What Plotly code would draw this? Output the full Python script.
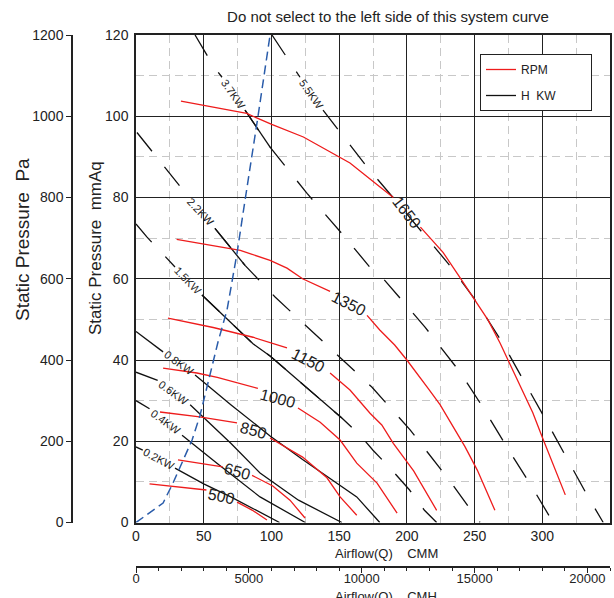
import plotly.graph_objects as go

# ---- data (airflow in CMM, static pressure in mmAq) ----
# None marks the gap where the inline label sits

rpm500_x = [10, 30, 52, None, 74.6, 86, 96.7]
rpm500_y = [9.5, 8.8, 8.0, None, 5.0, 3.0, 0.6]
rpm650_x = [31, 48, 64, None, 85.7, 101, 113.7, 124.8]
rpm650_y = [15.4, 14.6, 13.7, None, 11.6, 9.0, 5.5, 1.1]
rpm850_x = [17.7, 47, 74.6, None, 99, 123, 141, 150.7, 163]
rpm850_y = [27.2, 26, 24.5, None, 20.8, 16.1, 11, 6.3, 1.8]
rpm1000_x = [20, 45, 60, 90, None, 119.6, 136, 150.7, 163, 178, 192.8]
rpm1000_y = [38, 36.8, 35.7, 33, None, 28.2, 24.7, 20.3, 14.6, 9.7, 2.3]
rpm1150_x = [23.6, 57, 86.4, 111.5, None, 143.3, 158, 172.8, 181.5, 190, 205, 222]
rpm1150_y = [50.3, 48, 45.6, 43, None, 36.8, 32.6, 26.9, 24, 19.5, 12.7, 3]
rpm1350_x = [30, 50, 77, 99, 111.5, 123, 143.3, None, 170.6, 180, 191, 200, 215.7, 224.5, 243, 252, 265]
rpm1350_y = [69.7, 68.5, 67, 64.5, 62.6, 60, 56.9, None, 51, 47.4, 43.7, 40, 33, 29, 18.6, 12.9, 3]
rpm1650_x = [33.2, 81.8, 90.4, 100.2, 123.6, 149.4, 158, 180.2, 190, None,
             210, 226.7, 239, 250, 260, 268.8, 274.7, 293, 300, 317]
rpm1650_y = [103.7, 100.7, 99.4, 98, 94.9, 90.2, 88.5, 82.6, 80, None,
             72.7, 66.5, 60.4, 54.7, 49.8, 44.2, 40, 27, 21, 6.8]

kw02_x = [0, 5, None, 28.8, 50, 70, 91.6, 106]
kw02_y = [18.6, 17.8, None, 13.4, 9.5, 6.3, 2.6, 0]
kw04_x = [0, 10, None, 34, 60, 91.6, 125]
kw04_y = [30, 28, None, 21.5, 14.5, 6.3, 0]
kw06_x = [0, 16, None, 40, 70, 91.6, 120, 152]
kw06_y = [37, 35, None, 29, 19.5, 12.2, 5.5, 0]
kw08_x = [0, 20, None, 43.6, 70, 99, 123, 163, 180]
kw08_y = [47, 42, None, 36.3, 29, 21.3, 15.5, 6.3, 0]
kw15_x = [0, 8, 28.8, None, 48.7, 86.4, 99, 152, 165.4, 175, 187.6, 202, 213, 222]
kw15_y = [73.5, 70.3, 62.9, None, 56, 44, 41, 25.7, 21.5, 17.8, 13.4, 8, 3, 0]
kw22_x = [0.7, 14, 25, 37.7, None, 58.3, 80.5, 102.7, 124.8, 149, 174.3, 202.4, 233.4, 254]
kw22_y = [96, 90.4, 86, 80.6, None, 72.4, 63.3, 55.5, 48.6, 41.2, 33.3, 22.8, 9.5, 0]
kw37_x = [43.6, 48, 56.9, 63.5, None, 80.5, 99, 126.3, 154.4, 172.8, 182.4, 213.4, 239.3, 255.5, 276.2, 292.5, 308]
kw37_y = [120, 117.5, 112.5, 109.6, None, 101.5, 92.4, 81, 70.2, 62.8, 60.1, 48.1, 37, 28.7, 17.3, 8.7, 0]
kw55_x = [100.4, 121.1, None, 138.1, 145.5, 170.6, 189.8, 230.4, 249, 270.3, 303.5, 333, 345]
kw55_y = [120, 109.6, None, 101.5, 98.3, 87.5, 80, 63.8, 55.5, 44.4, 24.7, 6.8, 0]

system_x = [0, 10, 20, 27.3, 34.7, 41.4, 47.3, 53.2, 60.6, 67.2, 74.6, 80.5, 86.4, 90, 99]
system_y = [0, 2.3, 4.8, 9.7, 15.4, 20.3, 26.4, 34.3, 44.5, 52.3, 66.3, 79.3, 91.6, 99.8, 120]

rpm_names = ["500", "650", "850", "1000", "1150", "1350", "1650"]
rpm_data = [(rpm500_x, rpm500_y), (rpm650_x, rpm650_y), (rpm850_x, rpm850_y),
            (rpm1000_x, rpm1000_y), (rpm1150_x, rpm1150_y), (rpm1350_x, rpm1350_y),
            (rpm1650_x, rpm1650_y)]
kw_names = ["0.2KW", "0.4KW", "0.6KW", "0.8KW", "1.5KW", "2.2KW", "3.7KW", "5.5KW"]
kw_data = [(kw02_x, kw02_y), (kw04_x, kw04_y), (kw06_x, kw06_y), (kw08_x, kw08_y),
           (kw15_x, kw15_y), (kw22_x, kw22_y), (kw37_x, kw37_y), (kw55_x, kw55_y)]

# ---- styling ----
rpm_angle = [12, 15, 15, 15, 27, 27, 52]
kw_angle = [28, 36, 36, 36, 46, 47, 55, 55]
kw_dashed = [False, False, False, False, True, True, True, True]
kw_solid_span = {"1.5KW": (48.7, 152), "2.2KW": (58.3, 80.5), "3.7KW": (80.5, 99)}
DASH = "24px,20px"
FONT = "Liberation Sans, Arial, sans-serif"


def label_pos(xs, ys):
    i = xs.index(None)
    return (xs[i - 1] + xs[i + 1]) / 2, (ys[i - 1] + ys[i + 1]) / 2


fig = go.Figure()
ann = []

for name, (xs, ys), ang, dashed in zip(kw_names, kw_data, kw_angle, kw_dashed):
    fig.add_trace(go.Scatter(x=xs, y=ys, mode="lines", showlegend=False, hoverinfo="skip",
                             line=dict(color="#111111", width=1.3,
                                       dash=DASH if dashed else "solid")))
    if name in kw_solid_span:
        a, b = kw_solid_span[name]
        sx = [x for x in xs if x is not None and a <= x <= b]
        sy = [y for x, y in zip(xs, ys) if x is not None and a <= x <= b]
        fig.add_trace(go.Scatter(x=sx, y=sy, mode="lines", showlegend=False, hoverinfo="skip",
                                 line=dict(color="#111111", width=1.3)))
    lx, ly = label_pos(xs, ys)
    ann.append(dict(x=lx, y=ly, xref="x", yref="y", text=name, showarrow=False,
                    textangle=ang, font=dict(family=FONT, size=11, color="#222222")))

for name, (xs, ys), ang in zip(rpm_names, rpm_data, rpm_angle):
    fig.add_trace(go.Scatter(x=xs, y=ys, mode="lines", showlegend=False, hoverinfo="skip",
                             line=dict(color="#ee1c1c", width=1.3)))
    lx, ly = label_pos(xs, ys)
    ann.append(dict(x=lx, y=ly, xref="x", yref="y", text=name, showarrow=False,
                    textangle=ang, font=dict(family=FONT, size=16, color="#222222")))

fig.add_trace(go.Scatter(x=system_x, y=system_y, mode="lines", showlegend=False, hoverinfo="skip",
                         line=dict(color="#2a5caa", width=1.5, dash="9px,5px")))

# legend entries
fig.add_trace(go.Scatter(x=[None], y=[None], mode="lines", name="RPM",
                         legendgroup="a", line=dict(color="#ee1c1c", width=1.3)))
fig.add_trace(go.Scatter(x=[None], y=[None], mode="lines",
                         name="H\u00a0\u00a0KW" + "\u00a0" * 9,
                         legendgroup="b", line=dict(color="#111111", width=1.3)))

# secondary axes (Pa, CMH)
fig.add_trace(go.Scatter(x=[None], y=[None], xaxis="x2", yaxis="y2", showlegend=False))

L, R, T, B = 72, 4, 35, 31
PW, PH = 614 - L - R, 598 - T - B
xdom = [(136 - L) / PW, 1]
ydom = [(567 - 522.5) / PH, 1]


def px_x(p):
    return (p - L) / PW


def px_y(p):
    return (567 - p) / PH


# axis titles placed as text so their position matches the original
title_kw = dict(xref="paper", yref="paper", showarrow=False, xanchor="center", yanchor="middle")
ann += [
    dict(x=px_x(22), y=px_y(240), text="Static Pressure\u00a0\u00a0Pa", textangle=-90,
         font=dict(size=19), **title_kw),
    dict(x=px_x(95), y=px_y(248), text="Static Pressure\u00a0\u00a0mmAq", textangle=-90,
         font=dict(size=17), **title_kw),
    dict(x=px_x(386), y=px_y(553), text="Airflow(Q)\u00a0\u00a0\u00a0\u00a0CMM",
         font=dict(size=13), **title_kw),
    dict(x=px_x(386), y=px_y(596), text="Airflow(Q)\u00a0\u00a0\u00a0\u00a0CMH",
         font=dict(size=13), **title_kw),
]

fig.update_layout(
    width=614, height=598,
    margin=dict(l=L, r=R, t=T, b=B),
    paper_bgcolor="white", plot_bgcolor="white",
    font=dict(family=FONT, color="#222222"),
    title=dict(text="Do not select to the left side of this system curve",
               x=388 / 614, xanchor="center", y=1 - 17 / 598, yanchor="middle",
               font=dict(size=15, color="#222222")),
    annotations=ann,
    legend=dict(x=px_x(480), y=px_y(54), xanchor="left", yanchor="top",
                bgcolor="white", bordercolor="#222222", borderwidth=1,
                font=dict(size=12), tracegroupgap=7),
    xaxis=dict(domain=xdom, range=[0, 350], dtick=50, tick0=0,
               showgrid=True, gridcolor="#222222", gridwidth=1.3,
               minor=dict(dtick=25, showgrid=True, gridcolor="#c8c8c8", griddash="8px,5px", gridwidth=1),
               showline=True, linecolor="#222222", linewidth=1.5, mirror=True,
               zeroline=False, ticks="", ticklabelstandoff=0,
               tickfont=dict(size=14), automargin=False),
    yaxis=dict(domain=ydom, range=[0, 120], dtick=20, tick0=0,
               showgrid=True, gridcolor="#222222", gridwidth=1.3,
               minor=dict(dtick=10, showgrid=True, gridcolor="#c8c8c8", griddash="8px,5px", gridwidth=1),
               showline=True, linecolor="#222222", linewidth=1.5, mirror=True,
               zeroline=False, ticks="", ticklabelstandoff=3,
               tickfont=dict(size=14), automargin=False),
    xaxis2=dict(overlaying="x", anchor="free", position=0, side="bottom",
                domain=xdom, range=[0, 21000], dtick=5000, tick0=0, tickformat="d",
                showgrid=False, zeroline=False,
                showline=True, linecolor="#222222", linewidth=1.5,
                ticks="outside", ticklen=5, tickcolor="#222222", ticklabelstandoff=-5,
                minor=dict(dtick=1000, ticks="outside", ticklen=3, tickcolor="#222222"),
                tickfont=dict(size=13), automargin=False),
    yaxis2=dict(overlaying="y", anchor="free", position=0, side="left",
                range=[0, 1200], dtick=200, tick0=0,
                showgrid=False, zeroline=False,
                showline=True, linecolor="#222222", linewidth=1.5,
                ticks="outside", ticklen=5, tickcolor="#222222",
                tickfont=dict(size=14), automargin=False),
)

fig.write_html("out.html", config={"displayModeBar": False},
               post_script="document.body.style.margin='0';")
